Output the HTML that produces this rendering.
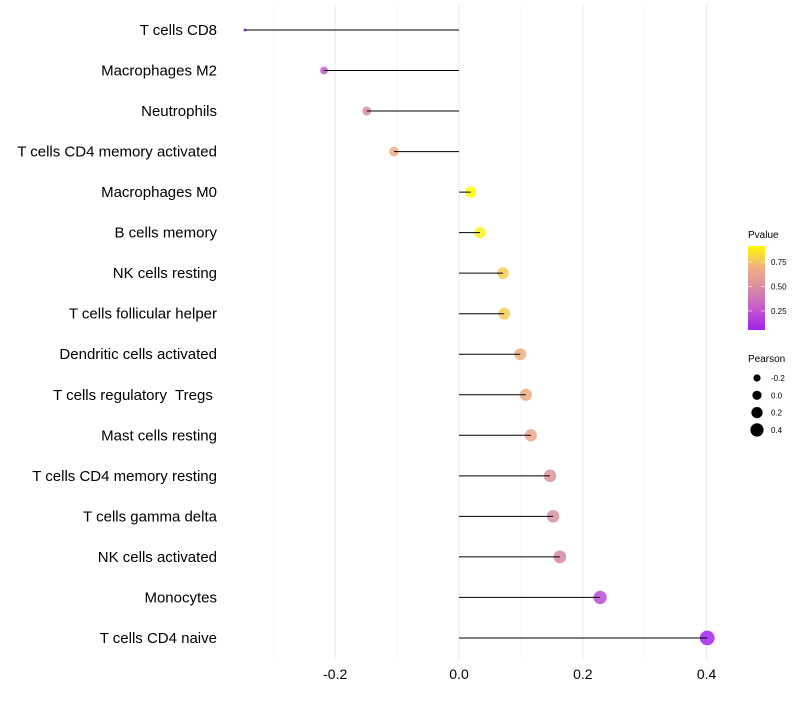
<!DOCTYPE html>
<html><head><meta charset="utf-8"><style>
body{margin:0;background:#fff;font-family:"Liberation Sans",sans-serif}
svg text{font-family:"Liberation Sans",sans-serif}
</style></head><body>
<svg id="chart" width="800" height="700"></svg>
<script>
const categories=["T cells CD8","Macrophages M2","Neutrophils","T cells CD4 memory activated","Macrophages M0","B cells memory","NK cells resting","T cells follicular helper","Dendritic cells activated","T cells regulatory  Tregs ","Mast cells resting","T cells CD4 memory resting","T cells gamma delta","NK cells activated","Monocytes","T cells CD4 naive"];
const pearson=[-0.346,-0.218,-0.149,-0.105,0.019,0.034,0.071,0.073,0.099,0.108,0.116,0.147,0.152,0.163,0.228,0.401];
const pvalue=[0.06,0.28,0.5,0.68,0.92,0.88,0.78,0.78,0.7,0.66,0.63,0.52,0.5,0.46,0.22,0.06];
const xTicks=[-0.2,0,0.2,0.4];
const xTickLabels=["-0.2","0.0","0.2","0.4"];
const pTicks=[0.25,0.5,0.75];
const sizeTicks=[-0.2,0,0.2,0.4];

const NS="http://www.w3.org/2000/svg";
const svg=document.getElementById('chart');
function mk(t,a,p){const e=document.createElementNS(NS,t);for(const k in a)e.setAttribute(k,a[k]);(p||svg).appendChild(e);return e;}
const x=v=>459+v*619;
const y=i=>30+i*40.53;
const r=v=>1.5+6.8*Math.sqrt(Math.max(0,v+0.346));
const stops=[[0.05,[160,32,240]],[0.3,[200,96,200]],[0.5,[216,144,160]],[0.7,[240,176,128]],[0.92,[255,255,0]]];
function col(p){if(p<=stops[0][0])return `rgb(${stops[0][1]})`;for(let i=1;i<stops.length;i++){if(p<=stops[i][0]){const a=stops[i-1],b=stops[i];const t=(p-a[0])/(b[0]-a[0]);return 'rgb('+a[1].map((c,j)=>Math.round(c+(b[1][j]-c)*t)).join(',')+')';}}return `rgb(${stops[stops.length-1][1]})`;}
const pY=p=>330-(p-0.056)*98;

[-0.3,-0.1,0.1,0.3].forEach(v=>{const g=mk('line',{x1:x(v),x2:x(v),y1:5,y2:660,stroke:'#f3f3f3','stroke-width':0.6});

});
xTicks.forEach((v,i)=>{const g=mk('line',{x1:x(v),x2:x(v),y1:5,y2:660,stroke:'#ebebeb','stroke-width':1.1});


const t=mk('text',{x:x(v),y:679,'text-anchor':'middle','font-size':14,fill:'#000'});t.textContent=xTickLabels[i];

});

categories.forEach((c,i)=>{
const t=mk('text',{x:217,y:y(i)+5,'text-anchor':'end','font-size':15,fill:'#000',style:'white-space:pre'});t.textContent=c;


const pt=mk('circle',{cx:x(pearson[i]),cy:y(i),r:r(pearson[i]),fill:col(pvalue[i]),'fill-opacity':0.85});


const l=mk('line',{x1:x(0),x2:x(pearson[i]),y1:y(i),y2:y(i),stroke:'#000','stroke-width':1});


});

const defs=mk('defs',{});const lg=mk('linearGradient',{id:'pg',x1:0,y1:1,x2:0,y2:0},defs);
for(let k=0;k<=20;k++){const p=0.056+k/20*(0.914-0.056);mk('stop',{offset:k/20,'stop-color':col(p)},lg);}
let t=mk('text',{x:748,y:238,'font-size':10});t.textContent='Pvalue';


const bar=mk('rect',{x:748,y:246,width:17,height:84,fill:'url(#pg)'});


pTicks.forEach(p=>{mk('line',{x1:748,x2:752,y1:pY(p),y2:pY(p),stroke:'#fff','stroke-width':0.6});mk('line',{x1:761,x2:765,y1:pY(p),y2:pY(p),stroke:'#fff','stroke-width':0.6});
const l=mk('text',{x:771,y:pY(p)+3,'font-size':8});l.textContent=p.toFixed(2);

});
t=mk('text',{x:748,y:362,'font-size':10});t.textContent='Pearson';


const legR=[3.6,4.6,5.6,6.6];
sizeTicks.forEach((v,i)=>{const cy=378+i*17.3;const c=mk('circle',{cx:757,cy:cy,r:legR[i],fill:'#000'});


const l=mk('text',{x:771,y:cy+3,'font-size':8});l.textContent=v.toFixed(1);

});
</script>
</body></html>
